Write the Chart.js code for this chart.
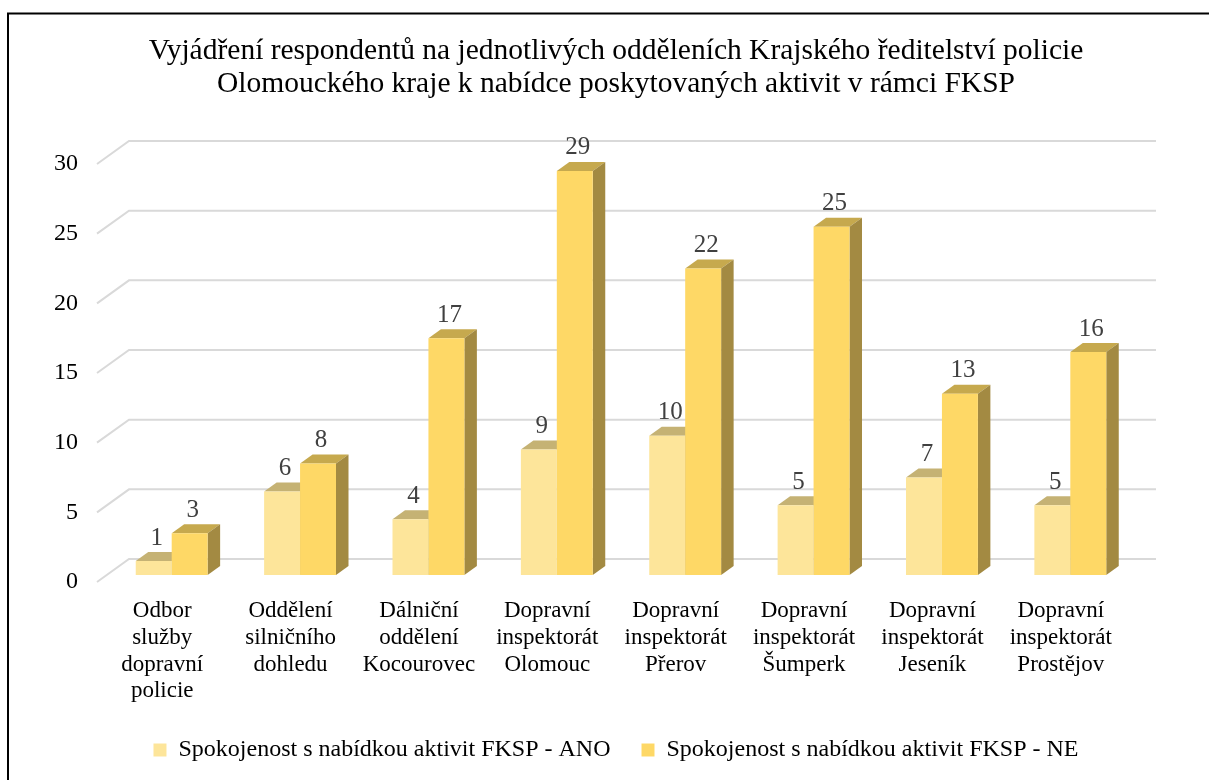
<!DOCTYPE html>
<html>
<head>
<meta charset="utf-8">
<script src="https://cdn.jsdelivr.net/npm/chart.js@4.4.1/dist/chart.umd.min.js"></script>
<style>
  html, body { margin: 0; padding: 0; background: #ffffff; }
  #wrap { position: relative; width: 1209px; height: 780px; }
</style>
</head>
<body>
<div id="wrap"><canvas id="c"></canvas></div>
<script>
const titleLines = [
  "Vyjádření respondentů na jednotlivých odděleních Krajského ředitelství policie",
  "Olomouckého kraje k nabídce poskytovaných aktivit v rámci FKSP"
];
const categories = [
  ["Odbor", "služby", "dopravní", "policie"],
  ["Oddělení", "silničního", "dohledu"],
  ["Dálniční", "oddělení", "Kocourovec"],
  ["Dopravní", "inspektorát", "Olomouc"],
  ["Dopravní", "inspektorát", "Přerov"],
  ["Dopravní", "inspektorát", "Šumperk"],
  ["Dopravní", "inspektorát", "Jeseník"],
  ["Dopravní", "inspektorát", "Prostějov"]
];
const seriesNames = [
  "Spokojenost s nabídkou aktivit FKSP - ANO",
  "Spokojenost s nabídkou aktivit FKSP - NE"
];
const anoValues = [1, 6, 4, 9, 10, 5, 7, 5];
const neValues = [3, 8, 17, 29, 22, 25, 13, 16];
const yTicks = [0, 5, 10, 15, 20, 25, 30];

const SERIF = '"Liberation Serif", "Times New Roman", serif';
const frontColors = ['#FDE59A', '#FED866'];
const topColors = ['#C5B274', '#C6A94E'];
const sideColors = ['#A99B64', '#A38A42'];

// 3D geometry (pixels)
const WALL_DX = 31, WALL_DY = 23;   // depth of back wall from the front plane
const BAR_DX = 9.5, BAR_DY = 7;     // bar front plane offset
const DEPTH_DX = 12.5, DEPTH_DY = 9; // bar depth

const threeD = {
  id: 'threeD',
  beforeDatasetsDraw(chart) {
    const ctx = chart.ctx;
    const area = chart.chartArea;
    const ys = chart.scales.y;
    ctx.save();
    ctx.strokeStyle = '#D9D9D9';
    ctx.lineWidth = 2;
    yTicks.forEach(v => {
      const fy = ys.getPixelForValue(v);
      ctx.beginPath();
      ctx.moveTo(area.left - 1, fy);
      ctx.lineTo(area.left + WALL_DX, fy - WALL_DY);
      ctx.lineTo(area.right + WALL_DX, fy - WALL_DY);
      ctx.stroke();
    });
    ctx.restore();

    ctx.save();
    ctx.translate(BAR_DX, -BAR_DY);
    chart.data.datasets.forEach((ds, di) => {
      const meta = chart.getDatasetMeta(di);
      meta.data.forEach(bar => {
        const l = bar.x - bar.width / 2, r = bar.x + bar.width / 2;
        const t = bar.y, b = bar.base;
        ctx.fillStyle = topColors[di];
        ctx.beginPath();
        ctx.moveTo(l, t);
        ctx.lineTo(l + DEPTH_DX, t - DEPTH_DY);
        ctx.lineTo(r + DEPTH_DX, t - DEPTH_DY);
        ctx.lineTo(r, t);
        ctx.closePath();
        ctx.fill();
        ctx.fillStyle = sideColors[di];
        ctx.beginPath();
        ctx.moveTo(r, t);
        ctx.lineTo(r + DEPTH_DX, t - DEPTH_DY);
        ctx.lineTo(r + DEPTH_DX, b - DEPTH_DY);
        ctx.lineTo(r, b);
        ctx.closePath();
        ctx.fill();
      });
    });
  },
  afterDatasetsDraw(chart) {
    const ctx = chart.ctx;
    ctx.fillStyle = '#404040';
    ctx.font = '25px ' + SERIF;
    ctx.textAlign = 'center';
    ctx.textBaseline = 'middle';
    chart.data.datasets.forEach((ds, di) => {
      const meta = chart.getDatasetMeta(di);
      meta.data.forEach((bar, i) => {
        ctx.fillText(String(ds.data[i]), bar.x + 3, bar.y - 23);
      });
    });
    ctx.restore();
  },
  afterDraw(chart) {
    const ctx = chart.ctx;
    ctx.save();
    ctx.strokeStyle = '#000000';
    ctx.lineWidth = 2;
    ctx.beginPath();
    ctx.moveTo(8, 780);
    ctx.lineTo(8, 13.5);
    ctx.lineTo(1209, 13.5);
    ctx.stroke();
    ctx.restore();
  }
};

new Chart(document.getElementById('c'), {
  type: 'bar',
  data: {
    labels: categories,
    datasets: [
      { label: seriesNames[0], data: anoValues, backgroundColor: frontColors[0], borderWidth: 0, clip: false },
      { label: seriesNames[1], data: neValues, backgroundColor: frontColors[1], borderWidth: 0, clip: false }
    ]
  },
  options: {
    responsive: true,
    maintainAspectRatio: false,
    animation: false,
    datasets: { bar: { categoryPercentage: 0.56, barPercentage: 1.0 } },
    layout: { padding: { left: 23, right: 0, top: 14, bottom: 8 } },
    plugins: {
      title: {
        display: true,
        text: titleLines,
        color: '#000000',
        font: { family: SERIF, size: 29.5, weight: 'normal', lineHeight: '33px' },
        padding: { top: 20.5, bottom: 63.5 }
      },
      legend: {
        display: true,
        position: 'bottom',
        labels: {
          color: '#000000',
          font: { family: SERIF, size: 24 },
          boxWidth: 13,
          boxHeight: 13,
          padding: 31
        }
      },
      tooltip: { enabled: false }
    },
    scales: {
      x: {
        grid: { display: false, drawTicks: false },
        border: { display: false },
        ticks: {
          color: '#000000',
          font: { family: SERIF, size: 23, lineHeight: 1.16 },
          padding: 16,
          maxRotation: 0,
          minRotation: 0,
          autoSkip: false
        },
        afterFit(s) { s.height = 125; }
      },
      y: {
        min: 0,
        max: 30,
        grid: { display: false, drawTicks: false },
        border: { display: false },
        ticks: {
          stepSize: 5,
          color: '#000000',
          font: { family: SERIF, size: 24 },
          padding: 20
        },
        afterFit(s) { s.width = 75; }
      },
      y2: {
        type: 'linear',
        position: 'right',
        display: true,
        grid: { display: false, drawTicks: false },
        border: { display: false },
        ticks: { display: false },
        afterFit(s) { s.width = 84; }
      }
    }
  },
  plugins: [threeD]
});
</script>
</body>
</html>
